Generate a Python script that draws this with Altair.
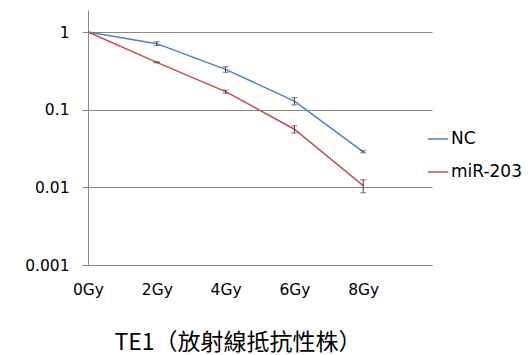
import altair as alt
import pandas as pd

doses = [0, 2, 4, 6, 8]
nc = [1.0, 0.708, 0.33, 0.129, 0.0287]
nc_err = [0.0, 0.04, 0.027, 0.014, 0.0009]
mir = [1.0, 0.407, 0.171, 0.056, 0.0105]
mir_err = [0.0, 0.005, 0.008, 0.006, 0.002]
series = ["NC", "miR-203"]
colors = ["#4F81BD", "#C0504D"]
y_ticks = [0.001, 0.01, 0.1, 1]
x_ticks = [0, 2, 4, 6, 8]
title_text = "TE1（放射線抵抗性株）"

rows = []
for name, vals, errs in [("NC", nc, nc_err), ("miR-203", mir, mir_err)]:
    for d, v, e in zip(doses, vals, errs):
        rows.append({"dose": d, "value": v, "lo": v - e, "hi": v + e, "series": name})
df = pd.DataFrame(rows)
df_err = df[df["hi"] > df["lo"]]

FONT = "DejaVu Sans"

x = alt.X("dose:Q", scale=alt.Scale(domain=[0, 10], nice=False, zero=False),
          axis=alt.Axis(values=x_ticks, labelExpr="datum.value + 'Gy'", grid=False,
                        ticks=False, domainColor="#888888", labelFontSize=15.5,
                        labelFont=FONT, labelColor="#000000", labelPadding=17,
                        labelFlush=False, title=None))
y = alt.Y("value:Q", scale=alt.Scale(type="log", domain=[0.001, 1.92], nice=False),
          axis=alt.Axis(values=y_ticks, format="~g", grid=True, gridColor="#888888",
                        domainColor="#888888", tickColor="#888888", tickSize=6,
                        labelFontSize=15.5, labelFont=FONT, labelColor="#000000",
                        labelPadding=13, title=None))

color = alt.Color("series:N", scale=alt.Scale(domain=series, range=colors),
                  legend=alt.Legend(title=None, orient="none", legendX=339, legendY=118,
                                    symbolType="stroke", symbolSize=420, symbolStrokeWidth=1.5,
                                    labelFontSize=17, labelFont=FONT, labelColor="#000000",
                                    rowPadding=14, labelOffset=2))

lines = alt.Chart(df).mark_line(strokeWidth=1.5).encode(x=x, y=y, color=color)
rules = alt.Chart(df_err).mark_rule(color="#404040", strokeWidth=1).encode(
    x="dose:Q", y="lo:Q", y2="hi:Q")
caps_lo = alt.Chart(df_err).mark_tick(color="#404040", thickness=1, size=6,
                                      orient="horizontal").encode(x="dose:Q", y="lo:Q")
caps_hi = alt.Chart(df_err).mark_tick(color="#404040", thickness=1, size=6,
                                      orient="horizontal").encode(x="dose:Q", y="hi:Q")

chart = alt.layer(lines, rules, caps_lo, caps_hi).properties(
    width=344, height=255,
    title=alt.TitleParams(title_text, orient="bottom", anchor="middle", fontSize=23,
                          font="Noto Sans CJK TC", fontWeight="normal", color="#000000",
                          offset=34, dx=-22),
    autosize=alt.AutoSizeParams(type="none"),
    padding={"left": 80, "top": 2, "right": 90, "bottom": 90},
).configure_view(stroke=None)

chart.save("out.html", embed_options={"renderer": "svg", "actions": False})
